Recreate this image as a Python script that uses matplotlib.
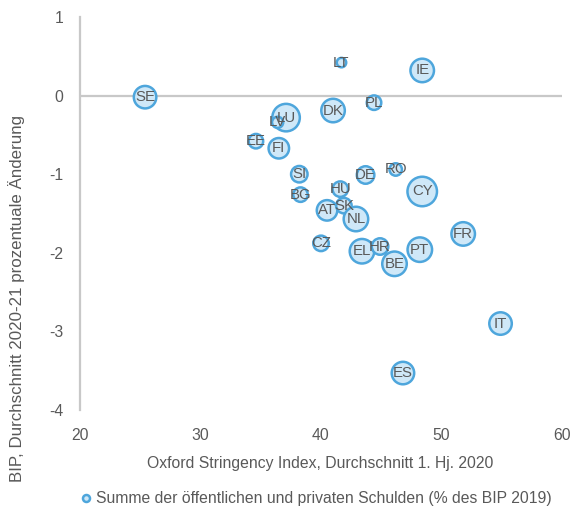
import numpy as np
import matplotlib
matplotlib.use("Agg")
import matplotlib.pyplot as plt

plt.rcParams['font.family'] = ['Liberation Sans', 'DejaVu Sans']
plt.rcParams['axes.unicode_minus'] = False

# country codes, stringency index (x), GDP change (y), debt % GDP (bubble size)
countries = ['SE', 'LT', 'IE', 'PL', 'DK', 'LU', 'LV', 'EE', 'FI', 'SI',
             'DE', 'RO', 'BG', 'HU', 'CY', 'AT', 'SK', 'NL', 'CZ', 'EL',
             'HR', 'BE', 'PT', 'FR', 'IT', 'ES']
stringency = [25.4, 41.7, 48.4, 44.4, 41.0, 37.1, 36.4, 34.6, 36.5, 38.2,
              43.7, 46.2, 38.3, 41.6, 48.4, 40.5, 41.9, 42.9, 40.0, 43.4,
              44.9, 46.1, 48.2, 51.8, 54.9, 46.8]
gdp_change = [-0.02, 0.42, 0.32, -0.09, -0.19, -0.28, -0.34, -0.58, -0.67, -1.0,
              -1.01, -0.94, -1.26, -1.19, -1.22, -1.46, -1.40, -1.57, -1.88, -1.98,
              -1.92, -2.14, -1.96, -1.76, -2.90, -3.53]
debt = [201, 46, 218, 93, 218, 290, 60, 93, 170, 116,
        129, 72, 93, 104, 330, 170, 104, 235, 104, 235,
        116, 235, 235, 218, 201, 201]

GRAY = '#595959'
AXIS = '#c8c8c8'
FILL = '#cfe8f8'
EDGE = '#4ea6dc'

fig = plt.figure(figsize=(5.71, 5.11), dpi=100)
ax = fig.add_axes([80 / 571, 1 - 410 / 511, 482 / 571, 393 / 511])

# bubble area proportional to debt; convert pixel diameter to points^2
lw = 1.8
d_px = np.sqrt(np.array(debt) / 0.322)
d_pt = d_px * 72 / 100 - lw
sizes = d_pt ** 2

ax.axhline(0, color=AXIS, linewidth=1.6, zorder=1)
ax.scatter(stringency, gdp_change, s=sizes, facecolor=FILL, edgecolor=EDGE,
           linewidth=lw, zorder=3,
           label='Summe der öffentlichen und privaten Schulden (% des BIP 2019)')
for c, x, y in zip(countries, stringency, gdp_change):
    ax.text(x, y, c, ha='center', va='center', fontsize=10.8, color=GRAY, zorder=4)

ax.set_xlim(20, 60)
ax.set_ylim(-4, 1)
ax.set_xticks([20, 30, 40, 50, 60])
ax.set_yticks([1, 0, -1, -2, -3, -4])
for s in ['top', 'right', 'bottom']:
    ax.spines[s].set_visible(False)
ax.spines['left'].set_color(AXIS)
ax.spines['left'].set_linewidth(1.6)
ax.tick_params(length=0, labelsize=11.3, colors=GRAY)
ax.tick_params(axis='y', pad=12)
ax.tick_params(axis='x', pad=13)

fig.text(320 / 571, 1 - 463 / 511, 'Oxford Stringency Index, Durchschnitt 1. Hj. 2020',
         ha='center', va='center', fontsize=11.3, color=GRAY)
fig.text(17 / 571, 1 - 298 / 511, 'BIP, Durchschnitt 2020-21 prozentuale Änderung',
         ha='center', va='center', rotation=90, fontsize=12.2, color=GRAY)

leg = fig.legend(loc='center', bbox_to_anchor=(311 / 571, 1 - 498 / 511), frameon=False,
                 fontsize=11.3, labelcolor=GRAY, handletextpad=-0.35,
                 markerscale=0.32, borderaxespad=0)

fig.savefig('out.png', dpi=100)
